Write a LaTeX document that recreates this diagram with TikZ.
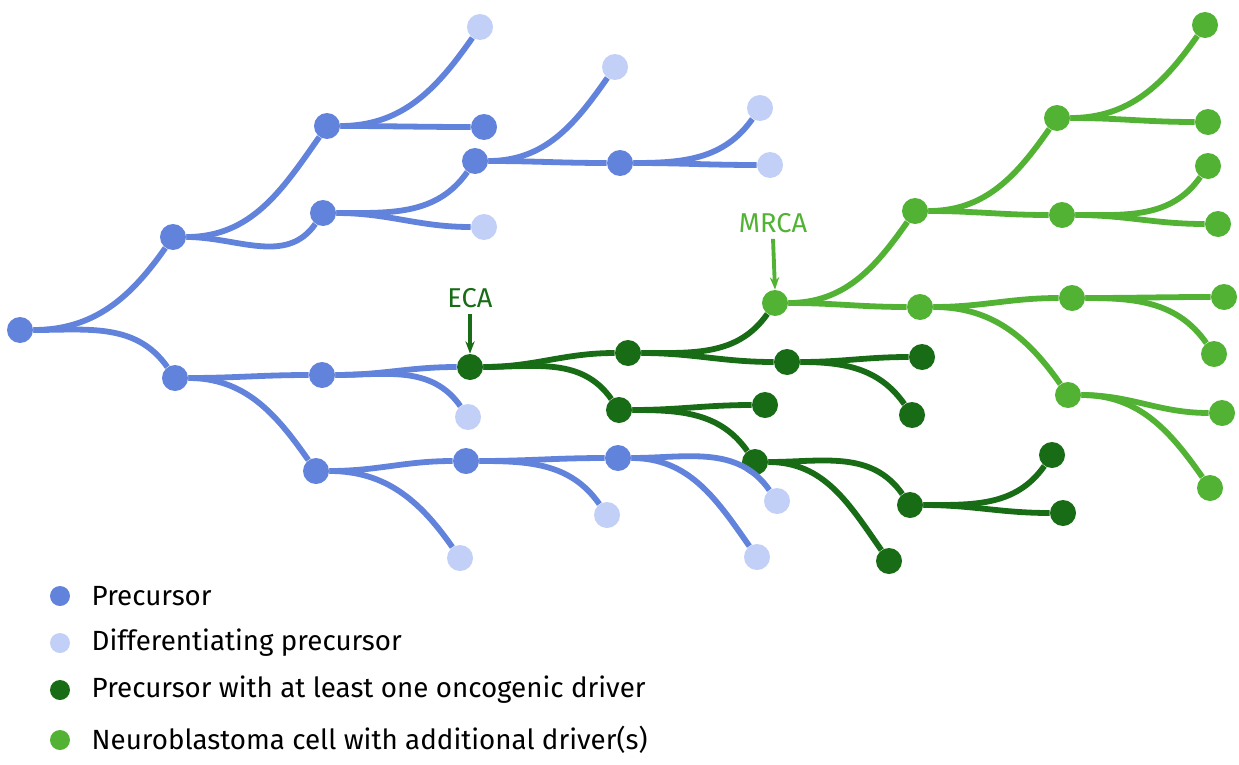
\documentclass[tikz,border=0pt]{standalone}
\usepackage{fontspec}
\setmainfont{Fira Sans}
\usetikzlibrary{positioning,arrows.meta}
\definecolor{prec}{RGB}{98,131,219}
\definecolor{diff}{RGB}{194,208,248}
\definecolor{drv}{RGB}{24,108,22}
\definecolor{nbl}{RGB}{82,178,52}
\tikzset{
  cell/.style={circle,fill=#1,inner sep=0pt,minimum size=0.52cm},
  edge/.style={line width=3.3pt,#1},
  up/.style={out=0,in=-125},
  dn/.style={out=0,in=125},
  fl/.style={out=0,in=180}
}
\begin{document}
\begin{tikzpicture}[x=0.02cm,y=-0.02cm]
\useasboundingbox (0,0) rectangle (1239,764);

% precursors
\foreach \n/\x/\y in {r/20/330,a/173/237,b/175/378,a1/327/126,a1r/484/127,a2/323/213,
  a2u/475/161,a2uu/620/163,b1/322/375,b2/316/471,b21/466/461,b211/618/458}
  \node[cell=prec] (\n) at (\x,\y) {};
% differentiating precursors
\foreach \n/\x/\y in {a1l/480/27,a2d/484/227,a2ul/615/67,a2uul/760/108,a2uur/770/165,
  b1d/468/417,b2d/460/558,b21d/607/515,b211u/777/501,b211d/757/557}
  \node[cell=diff] (\n) at (\x,\y) {};
% precursors with a driver
\foreach \n/\x/\y in {eca/470/367,e1/628/353,e11/787/362,e111/922/357,e112/912/415,
  e2/619/410,e21/765/405,e22/755/462,e221/910/505,e222/889/561,e2211/1052/455,e2212/1063/513}
  \node[cell=drv] (\n) at (\x,\y) {};
% neuroblastoma cells
\foreach \n/\x/\y in {mrca/775/303,m1/915/211,m2/920/307,m11/1057/118,m12/1062/215,
  m111/1205/25,m112/1208/122,m121/1208/166,m122/1218/224,m21/1072/298,m22/1068/395,
  m211/1224/297,m212/1214/354,m221/1222/413,m222/1210/488}
  \node[cell=nbl] (\n) at (\x,\y) {};

\foreach \p/\c/\s in {r/a/up,r/b/dn,a/a1/up,a/a2/up,a1/a1l/up,a1/a1r/fl,a2/a2u/up,a2/a2d/fl,
  a2u/a2ul/up,a2u/a2uu/fl,a2uu/a2uul/up,a2uu/a2uur/fl,b/b1/fl,b/b2/dn,b1/eca/fl,b1/b1d/dn,
  b2/b21/fl,b2/b2d/dn,b21/b211/fl,b21/b21d/dn,b211/b211u/dn,b211/b211d/dn}
  \draw[edge=prec] (\p) to[\s] (\c);
\foreach \p/\c/\s in {eca/e1/fl,eca/e2/dn,e1/mrca/up,e1/e11/fl,e11/e111/fl,e11/e112/dn,
  e2/e21/fl,e2/e22/dn,e22/e221/dn,e22/e222/dn,e221/e2211/up,e221/e2212/fl}
  \draw[edge=drv] (\p) to[\s] (\c);
\foreach \p/\c/\s in {mrca/m1/up,mrca/m2/fl,m1/m11/up,m1/m12/fl,m11/m111/up,m11/m112/fl,
  m12/m121/up,m12/m122/fl,m2/m21/fl,m2/m22/dn,m21/m211/fl,m21/m212/dn,m22/m221/fl,m22/m222/dn}
  \draw[edge=nbl] (\p) to[\s] (\c);

% labels
\node[text=drv,font=\fontsize{15.5}{18}\selectfont] (ecalab) at (470,298) {ECA};
\draw[drv,line width=2.2pt,-{Stealth[length=7pt]}] (ecalab.south) -- (eca.north);
\node[text=nbl,font=\fontsize{15.5}{18}\selectfont] (mrcalab) at (773,223) {MRCA};
\draw[nbl,line width=2.2pt,-{Stealth[length=7pt]}] (mrcalab.south) -- (mrca.north);

% legend
\foreach \c/\y/\t in {prec/596/Precursor,diff/643/Differentiating precursor,
  drv/690/Precursor with at least one oncogenic driver,
  nbl/740/Neuroblastoma cell with additional driver(s)}
  \node[cell=\c,minimum size=0.4cm] (l\y) at (60,\y) {}
    node[right=0.42cm of l\y,font=\fontsize{15.8}{18}\selectfont,inner sep=0pt] {\t};
\end{tikzpicture}
\end{document}
